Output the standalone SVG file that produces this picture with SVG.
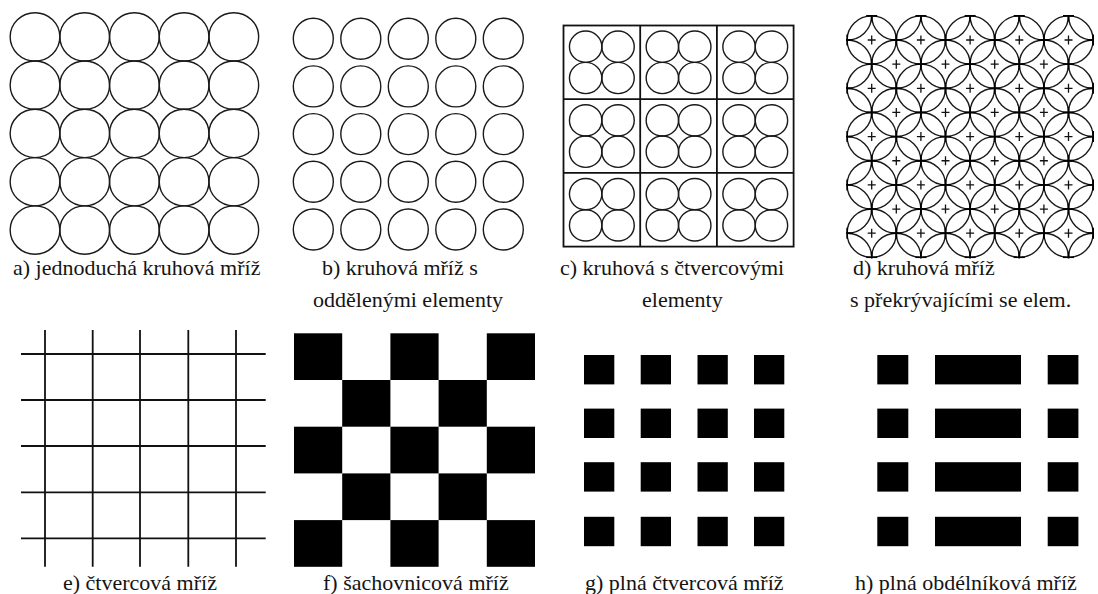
<svg xmlns="http://www.w3.org/2000/svg" width="1098" height="594" viewBox="0 0 1098 594">
<defs>
<ellipse id="ea" cx="0" cy="0" rx="24.85" ry="24.15"/>
<ellipse id="eb" cx="0" cy="0" rx="20" ry="20.5"/>
<ellipse id="ec" cx="0" cy="0" rx="16.2" ry="15.65"/>
<g id="quad">
<use href="#ec" x="-16.2" y="-15.65"/><use href="#ec" x="16.2" y="-15.65"/>
<use href="#ec" x="-16.2" y="15.65"/><use href="#ec" x="16.2" y="15.65"/>
</g>
<ellipse id="ed" cx="0" cy="0" rx="24.6" ry="24.15"/>
<path id="pl" d="M-4 0H4M0-4.5V4.5"/>
<path id="tc" d="M-5.5 0H5.5M0-5.5V5.5"/>
<clipPath id="clipd"><rect x="846.2" y="15" width="247.8" height="243.2"/></clipPath>
</defs>
<rect x="0" y="0" width="1098" height="594" fill="#fff"/>

<g id="panel-a" fill="none" stroke="#1a1a1a" stroke-width="1.4">
<use href="#ea" x="35" y="36.85"/><use href="#ea" x="84.7" y="36.85"/><use href="#ea" x="134.4" y="36.85"/><use href="#ea" x="184.1" y="36.85"/><use href="#ea" x="233.8" y="36.85"/>
<use href="#ea" x="35" y="85.15"/><use href="#ea" x="84.7" y="85.15"/><use href="#ea" x="134.4" y="85.15"/><use href="#ea" x="184.1" y="85.15"/><use href="#ea" x="233.8" y="85.15"/>
<use href="#ea" x="35" y="133.45"/><use href="#ea" x="84.7" y="133.45"/><use href="#ea" x="134.4" y="133.45"/><use href="#ea" x="184.1" y="133.45"/><use href="#ea" x="233.8" y="133.45"/>
<use href="#ea" x="35" y="181.75"/><use href="#ea" x="84.7" y="181.75"/><use href="#ea" x="134.4" y="181.75"/><use href="#ea" x="184.1" y="181.75"/><use href="#ea" x="233.8" y="181.75"/>
<use href="#ea" x="35" y="230.05"/><use href="#ea" x="84.7" y="230.05"/><use href="#ea" x="134.4" y="230.05"/><use href="#ea" x="184.1" y="230.05"/><use href="#ea" x="233.8" y="230.05"/>
</g>

<g id="panel-b" fill="none" stroke="#1a1a1a" stroke-width="1.4">
<use href="#eb" x="313.3" y="38.7"/><use href="#eb" x="360.8" y="38.7"/><use href="#eb" x="408.3" y="38.7"/><use href="#eb" x="455.8" y="38.7"/><use href="#eb" x="503.3" y="38.7"/>
<use href="#eb" x="313.3" y="86.4"/><use href="#eb" x="360.8" y="86.4"/><use href="#eb" x="408.3" y="86.4"/><use href="#eb" x="455.8" y="86.4"/><use href="#eb" x="503.3" y="86.4"/>
<use href="#eb" x="313.3" y="134.1"/><use href="#eb" x="360.8" y="134.1"/><use href="#eb" x="408.3" y="134.1"/><use href="#eb" x="455.8" y="134.1"/><use href="#eb" x="503.3" y="134.1"/>
<use href="#eb" x="313.3" y="181.8"/><use href="#eb" x="360.8" y="181.8"/><use href="#eb" x="408.3" y="181.8"/><use href="#eb" x="455.8" y="181.8"/><use href="#eb" x="503.3" y="181.8"/>
<use href="#eb" x="313.3" y="229.5"/><use href="#eb" x="360.8" y="229.5"/><use href="#eb" x="408.3" y="229.5"/><use href="#eb" x="455.8" y="229.5"/><use href="#eb" x="503.3" y="229.5"/>
</g>

<g id="panel-c" fill="none">
<rect x="563.5" y="25.5" width="230.1" height="221.1" stroke="#111" stroke-width="1.8"/>
<path d="M640.2 25.5V246.6M716.9 25.5V246.6M563.5 99.2H793.6M563.5 172.9H793.6" stroke="#111" stroke-width="1.8"/>
<g stroke="#1a1a1a" stroke-width="1.4">
<use href="#quad" x="601.85" y="62.35"/><use href="#quad" x="678.55" y="62.35"/><use href="#quad" x="755.25" y="62.35"/>
<use href="#quad" x="601.85" y="136.05"/><use href="#quad" x="678.55" y="136.05"/><use href="#quad" x="755.25" y="136.05"/>
<use href="#quad" x="601.85" y="209.75"/><use href="#quad" x="678.55" y="209.75"/><use href="#quad" x="755.25" y="209.75"/>
</g>
</g>

<g id="panel-d" clip-path="url(#clipd)" fill="none">
<g stroke="#1a1a1a" stroke-width="1.4">
<use href="#ed" x="871.7" y="40"/><use href="#ed" x="920.9" y="40"/><use href="#ed" x="970.1" y="40"/><use href="#ed" x="1019.3" y="40"/><use href="#ed" x="1068.5" y="40"/>
<use href="#ed" x="871.7" y="88.3"/><use href="#ed" x="920.9" y="88.3"/><use href="#ed" x="970.1" y="88.3"/><use href="#ed" x="1019.3" y="88.3"/><use href="#ed" x="1068.5" y="88.3"/>
<use href="#ed" x="871.7" y="136.6"/><use href="#ed" x="920.9" y="136.6"/><use href="#ed" x="970.1" y="136.6"/><use href="#ed" x="1019.3" y="136.6"/><use href="#ed" x="1068.5" y="136.6"/>
<use href="#ed" x="871.7" y="184.9"/><use href="#ed" x="920.9" y="184.9"/><use href="#ed" x="970.1" y="184.9"/><use href="#ed" x="1019.3" y="184.9"/><use href="#ed" x="1068.5" y="184.9"/>
<use href="#ed" x="871.7" y="233.2"/><use href="#ed" x="920.9" y="233.2"/><use href="#ed" x="970.1" y="233.2"/><use href="#ed" x="1019.3" y="233.2"/><use href="#ed" x="1068.5" y="233.2"/>
<use href="#ed" x="847.1" y="15.85"/><use href="#ed" x="896.3" y="15.85"/><use href="#ed" x="945.5" y="15.85"/><use href="#ed" x="994.7" y="15.85"/><use href="#ed" x="1043.9" y="15.85"/><use href="#ed" x="1093.1" y="15.85"/>
<use href="#ed" x="847.1" y="64.15"/><use href="#ed" x="896.3" y="64.15"/><use href="#ed" x="945.5" y="64.15"/><use href="#ed" x="994.7" y="64.15"/><use href="#ed" x="1043.9" y="64.15"/><use href="#ed" x="1093.1" y="64.15"/>
<use href="#ed" x="847.1" y="112.45"/><use href="#ed" x="896.3" y="112.45"/><use href="#ed" x="945.5" y="112.45"/><use href="#ed" x="994.7" y="112.45"/><use href="#ed" x="1043.9" y="112.45"/><use href="#ed" x="1093.1" y="112.45"/>
<use href="#ed" x="847.1" y="160.75"/><use href="#ed" x="896.3" y="160.75"/><use href="#ed" x="945.5" y="160.75"/><use href="#ed" x="994.7" y="160.75"/><use href="#ed" x="1043.9" y="160.75"/><use href="#ed" x="1093.1" y="160.75"/>
<use href="#ed" x="847.1" y="209.05"/><use href="#ed" x="896.3" y="209.05"/><use href="#ed" x="945.5" y="209.05"/><use href="#ed" x="994.7" y="209.05"/><use href="#ed" x="1043.9" y="209.05"/><use href="#ed" x="1093.1" y="209.05"/>
<use href="#ed" x="847.1" y="257.35"/><use href="#ed" x="896.3" y="257.35"/><use href="#ed" x="945.5" y="257.35"/><use href="#ed" x="994.7" y="257.35"/><use href="#ed" x="1043.9" y="257.35"/><use href="#ed" x="1093.1" y="257.35"/>
</g>
<g stroke="#111" stroke-width="1.3">
<use href="#pl" x="871.7" y="40"/><use href="#pl" x="920.9" y="40"/><use href="#pl" x="970.1" y="40"/><use href="#pl" x="1019.3" y="40"/><use href="#pl" x="1068.5" y="40"/>
<use href="#pl" x="871.7" y="88.3"/><use href="#pl" x="920.9" y="88.3"/><use href="#pl" x="970.1" y="88.3"/><use href="#pl" x="1019.3" y="88.3"/><use href="#pl" x="1068.5" y="88.3"/>
<use href="#pl" x="871.7" y="136.6"/><use href="#pl" x="920.9" y="136.6"/><use href="#pl" x="970.1" y="136.6"/><use href="#pl" x="1019.3" y="136.6"/><use href="#pl" x="1068.5" y="136.6"/>
<use href="#pl" x="871.7" y="184.9"/><use href="#pl" x="920.9" y="184.9"/><use href="#pl" x="970.1" y="184.9"/><use href="#pl" x="1019.3" y="184.9"/><use href="#pl" x="1068.5" y="184.9"/>
<use href="#pl" x="871.7" y="233.2"/><use href="#pl" x="920.9" y="233.2"/><use href="#pl" x="970.1" y="233.2"/><use href="#pl" x="1019.3" y="233.2"/><use href="#pl" x="1068.5" y="233.2"/>
<use href="#pl" x="896.3" y="64.15"/><use href="#pl" x="945.5" y="64.15"/><use href="#pl" x="994.7" y="64.15"/><use href="#pl" x="1043.9" y="64.15"/>
<use href="#pl" x="896.3" y="112.45"/><use href="#pl" x="945.5" y="112.45"/><use href="#pl" x="994.7" y="112.45"/><use href="#pl" x="1043.9" y="112.45"/>
<use href="#pl" x="896.3" y="160.75"/><use href="#pl" x="945.5" y="160.75"/><use href="#pl" x="994.7" y="160.75"/><use href="#pl" x="1043.9" y="160.75"/>
<use href="#pl" x="896.3" y="209.05"/><use href="#pl" x="945.5" y="209.05"/><use href="#pl" x="994.7" y="209.05"/><use href="#pl" x="1043.9" y="209.05"/>
</g>
<g stroke="#000" stroke-width="1.8">
<use href="#tc" x="871.7" y="15.85"/><use href="#tc" x="920.9" y="15.85"/><use href="#tc" x="970.1" y="15.85"/><use href="#tc" x="1019.3" y="15.85"/><use href="#tc" x="1068.5" y="15.85"/>
<use href="#tc" x="871.7" y="64.15"/><use href="#tc" x="920.9" y="64.15"/><use href="#tc" x="970.1" y="64.15"/><use href="#tc" x="1019.3" y="64.15"/><use href="#tc" x="1068.5" y="64.15"/>
<use href="#tc" x="871.7" y="112.45"/><use href="#tc" x="920.9" y="112.45"/><use href="#tc" x="970.1" y="112.45"/><use href="#tc" x="1019.3" y="112.45"/><use href="#tc" x="1068.5" y="112.45"/>
<use href="#tc" x="871.7" y="160.75"/><use href="#tc" x="920.9" y="160.75"/><use href="#tc" x="970.1" y="160.75"/><use href="#tc" x="1019.3" y="160.75"/><use href="#tc" x="1068.5" y="160.75"/>
<use href="#tc" x="871.7" y="209.05"/><use href="#tc" x="920.9" y="209.05"/><use href="#tc" x="970.1" y="209.05"/><use href="#tc" x="1019.3" y="209.05"/><use href="#tc" x="1068.5" y="209.05"/>
<use href="#tc" x="871.7" y="257.35"/><use href="#tc" x="920.9" y="257.35"/><use href="#tc" x="970.1" y="257.35"/><use href="#tc" x="1019.3" y="257.35"/><use href="#tc" x="1068.5" y="257.35"/>
<use href="#tc" x="847.1" y="40"/><use href="#tc" x="896.3" y="40"/><use href="#tc" x="945.5" y="40"/><use href="#tc" x="994.7" y="40"/><use href="#tc" x="1043.9" y="40"/><use href="#tc" x="1093.1" y="40"/>
<use href="#tc" x="847.1" y="88.3"/><use href="#tc" x="896.3" y="88.3"/><use href="#tc" x="945.5" y="88.3"/><use href="#tc" x="994.7" y="88.3"/><use href="#tc" x="1043.9" y="88.3"/><use href="#tc" x="1093.1" y="88.3"/>
<use href="#tc" x="847.1" y="136.6"/><use href="#tc" x="896.3" y="136.6"/><use href="#tc" x="945.5" y="136.6"/><use href="#tc" x="994.7" y="136.6"/><use href="#tc" x="1043.9" y="136.6"/><use href="#tc" x="1093.1" y="136.6"/>
<use href="#tc" x="847.1" y="184.9"/><use href="#tc" x="896.3" y="184.9"/><use href="#tc" x="945.5" y="184.9"/><use href="#tc" x="994.7" y="184.9"/><use href="#tc" x="1043.9" y="184.9"/><use href="#tc" x="1093.1" y="184.9"/>
<use href="#tc" x="847.1" y="233.2"/><use href="#tc" x="896.3" y="233.2"/><use href="#tc" x="945.5" y="233.2"/><use href="#tc" x="994.7" y="233.2"/><use href="#tc" x="1043.9" y="233.2"/><use href="#tc" x="1093.1" y="233.2"/>
</g>
</g>

<g id="panel-e" fill="none" stroke="#111" stroke-width="1.8">
<path d="M45 330V566.7M92.7 330V566.7M140 330V566.7M188.3 330V566.7M236 330V566.7"/>
<path d="M21 354H265.7M21 400H265.7M21 446H265.7M21 492.3H265.7M21 538.3H265.7"/>
</g>

<g id="panel-f" fill="#000">
<rect x="294" y="333.3" width="48.2" height="46.7"/><rect x="390.4" y="333.3" width="48.2" height="46.7"/><rect x="486.8" y="333.3" width="48.2" height="46.7"/>
<rect x="342.2" y="380" width="48.2" height="46.7"/><rect x="438.6" y="380" width="48.2" height="46.7"/>
<rect x="294" y="426.7" width="48.2" height="46.7"/><rect x="390.4" y="426.7" width="48.2" height="46.7"/><rect x="486.8" y="426.7" width="48.2" height="46.7"/>
<rect x="342.2" y="473.4" width="48.2" height="46.7"/><rect x="438.6" y="473.4" width="48.2" height="46.7"/>
<rect x="294" y="520.1" width="48.2" height="46.7"/><rect x="390.4" y="520.1" width="48.2" height="46.7"/><rect x="486.8" y="520.1" width="48.2" height="46.7"/>
</g>

<g id="panel-g" fill="#000">
<rect x="584" y="355" width="30.3" height="29.4"/><rect x="640.7" y="355" width="30.3" height="29.4"/><rect x="697.5" y="355" width="30.3" height="29.4"/><rect x="754" y="355" width="30.3" height="29.4"/>
<rect x="584" y="408.6" width="30.3" height="29.4"/><rect x="640.7" y="408.6" width="30.3" height="29.4"/><rect x="697.5" y="408.6" width="30.3" height="29.4"/><rect x="754" y="408.6" width="30.3" height="29.4"/>
<rect x="584" y="462.2" width="30.3" height="29.4"/><rect x="640.7" y="462.2" width="30.3" height="29.4"/><rect x="697.5" y="462.2" width="30.3" height="29.4"/><rect x="754" y="462.2" width="30.3" height="29.4"/>
<rect x="584" y="516.8" width="30.3" height="29.4"/><rect x="640.7" y="516.8" width="30.3" height="29.4"/><rect x="697.5" y="516.8" width="30.3" height="29.4"/><rect x="754" y="516.8" width="30.3" height="29.4"/>
</g>

<g id="panel-h" fill="#000">
<rect x="877.3" y="355" width="31" height="29.4"/><rect x="935" y="355" width="86" height="29.4"/><rect x="1047.7" y="355" width="30.7" height="29.4"/>
<rect x="877.3" y="408.6" width="31" height="29.4"/><rect x="935" y="408.6" width="86" height="29.4"/><rect x="1047.7" y="408.6" width="30.7" height="29.4"/>
<rect x="877.3" y="462.2" width="31" height="29.4"/><rect x="935" y="462.2" width="86" height="29.4"/><rect x="1047.7" y="462.2" width="30.7" height="29.4"/>
<rect x="877.3" y="516.8" width="31" height="29.4"/><rect x="935" y="516.8" width="86" height="29.4"/><rect x="1047.7" y="516.8" width="30.7" height="29.4"/>
</g>

<g id="labels" font-size="22" fill="#141414">
<text x="13" y="275" font-family="Liberation Serif">a) jednoduchá kruhová mříž</text>
<text x="322" y="275" font-family="Liberation Serif">b) kruhová mříž s</text>
<text x="313" y="307" font-family="Liberation Serif">oddělenými elementy</text>
<text x="560" y="275" font-family="Liberation Serif">c) kruhová s čtvercovými</text>
<text x="642" y="307" font-family="Liberation Serif">elementy</text>
<text x="853" y="275" font-family="Liberation Serif">d) kruhová mříž</text>
<text x="850" y="307" font-family="Liberation Serif">s překrývajícími se elem.</text>
<text x="63" y="590" font-family="Liberation Serif">e) čtvercová mříž</text>
<text x="323" y="590" font-family="Liberation Serif">f) šachovnicová mříž</text>
<text x="585" y="590" font-family="Liberation Serif">g) plná čtvercová mříž</text>
<text x="855" y="590" font-family="Liberation Serif">h) plná obdélníková mříž</text>
</g>
</svg>
